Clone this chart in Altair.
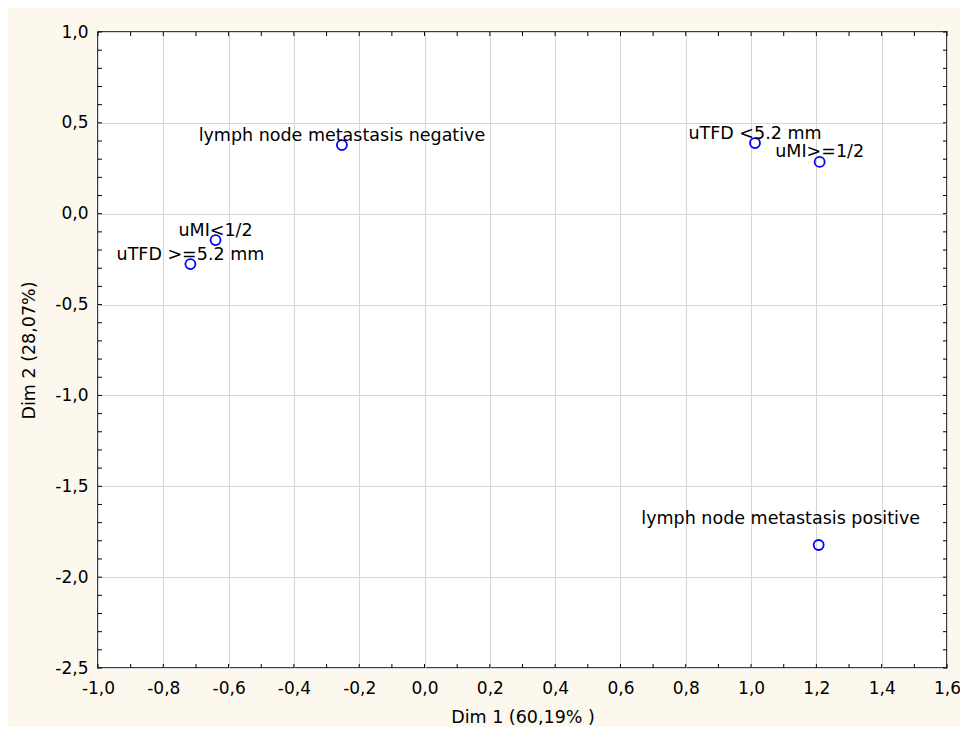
import altair as alt
import pandas as pd

# ---- data ----
labels = [
    "lymph node metastasis negative",
    "uMI<1/2",
    "uTFD >=5.2 mm",
    "uTFD <5.2 mm",
    "uMI>=1/2",
    "lymph node metastasis positive",
]
dim1 = [-0.253, -0.640, -0.717, 1.012, 1.210, 1.207]
dim2 = [0.378, -0.145, -0.277, 0.389, 0.285, -1.823]

x_major = [-1.0, -0.8, -0.6, -0.4, -0.2, 0.0, 0.2, 0.4, 0.6, 0.8, 1.0, 1.2, 1.4, 1.6]
y_major = [-2.5, -2.0, -1.5, -1.0, -0.5, 0.0, 0.5, 1.0]
x_minor = [-1.0, -0.9, -0.8, -0.7, -0.6, -0.5, -0.4, -0.3, -0.2, -0.1, 0.0,
           0.1, 0.2, 0.3, 0.4, 0.5, 0.6, 0.7, 0.8, 0.9, 1.0, 1.1, 1.2, 1.3,
           1.4, 1.5, 1.6]
y_minor = [-2.5, -2.4, -2.3, -2.2, -2.1, -2.0, -1.9, -1.8, -1.7, -1.6, -1.5,
           -1.4, -1.3, -1.2, -1.1, -1.0, -0.9, -0.8, -0.7, -0.6, -0.5, -0.4,
           -0.3, -0.2, -0.1, 0.0, 0.1, 0.2, 0.3, 0.4, 0.5, 0.6, 0.7, 0.8, 0.9, 1.0]

W, H = 849, 636
FONT = "DejaVu Sans"

pts = pd.DataFrame({"label": labels, "dim1": dim1, "dim2": dim2})
xt = pd.DataFrame({"v": x_minor})
yt = pd.DataFrame({"v": y_minor})

label_expr = "(datum.value < 0 ? '-' : '') + replace(format(abs(datum.value), '.1f'), '.', ',')"

x_scale = alt.Scale(domain=[-1.0, 1.6], nice=False, zero=False)
y_scale = alt.Scale(domain=[-2.5, 1.0], nice=False, zero=False)

x_axis = alt.Axis(
    values=x_major, labelExpr=label_expr, grid=True, gridColor="#D6D6D6",
    gridWidth=1, domain=False, ticks=False, tickSize=0, labelPadding=12,
    labelFlush=False, labelOverlap=False,
    labelFont=FONT, labelFontSize=17, labelColor="black",
    title="Dim 1 (60,19% )", titleFont=FONT, titleFontSize=17.5,
    titleFontWeight="normal", titleColor="black",
    titleBaseline="alphabetic", titleAnchor="middle", titleX=W / 2, titleY=54,
)
y_axis = alt.Axis(
    values=y_major, labelExpr=label_expr, grid=True, gridColor="#D6D6D6",
    gridWidth=1, domain=False, ticks=False, tickSize=0, labelPadding=10,
    labelFlush=False, labelOverlap=False,
    labelFont=FONT, labelFontSize=17, labelColor="black",
    title="Dim 2 (28,07%)", titleFont=FONT, titleFontSize=17.5,
    titleFontWeight="normal", titleColor="black", titleAngle=270,
    titleBaseline="alphabetic", titleAlign="center", titleX=-64, titleY=H / 2,
)

X = alt.X("dim1:Q", scale=x_scale, axis=x_axis)
Y = alt.Y("dim2:Q", scale=y_scale, axis=y_axis)

points = alt.Chart(pts).mark_point(
    shape="circle", filled=False, stroke="#0000FF", strokeWidth=1.8, size=100, opacity=1
).encode(x=X, y=Y)

labels_main = alt.Chart(pts).transform_filter(
    "datum.label != 'lymph node metastasis positive'"
).mark_text(
    align="center", baseline="alphabetic", dy=-4.5, font=FONT, fontSize=17.5, color="black"
).encode(x=X, y=Y, text="label:N")

labels_pos = alt.Chart(pts).transform_filter(
    "datum.label == 'lymph node metastasis positive'"
).mark_text(
    align="center", baseline="alphabetic", dx=-38, dy=-21, font=FONT, fontSize=17.5, color="black"
).encode(x=X, y=Y, text="label:N")

XT = alt.X("v:Q", scale=x_scale, axis=x_axis)
YT = alt.Y("v:Q", scale=y_scale, axis=y_axis)

tick_left = alt.Chart(yt).mark_rule(color="black", strokeWidth=1).encode(
    y=YT, x=alt.value(0), x2=alt.value(4))
tick_right = alt.Chart(yt).mark_rule(color="black", strokeWidth=1).encode(
    y=YT, x=alt.value(W - 4), x2=alt.value(W))
tick_bottom = alt.Chart(xt).mark_rule(color="black", strokeWidth=1).encode(
    x=XT, y=alt.value(H - 4), y2=alt.value(H))
tick_top = alt.Chart(xt).mark_rule(color="black", strokeWidth=1).encode(
    x=XT, y=alt.value(0), y2=alt.value(4))

chart = alt.layer(
    tick_left, tick_right, tick_bottom, tick_top, points, labels_main, labels_pos
).properties(
    width=W, height=H,
    autosize=alt.AutoSizeParams(type="none"),
    padding={"left": 90, "top": 24, "right": 13, "bottom": 59},
    background="#FDF8ED",
).configure_view(
    stroke="black", strokeWidth=1.5, fill="white"
)

chart.save("out.html", embed_options={"renderer": "svg", "actions": False})
